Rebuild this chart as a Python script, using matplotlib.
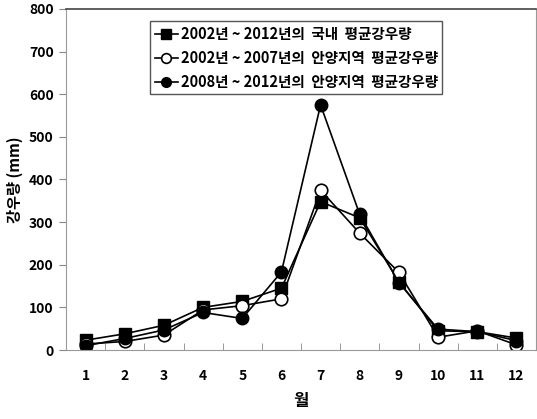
import numpy as np
import matplotlib.pyplot as plt
from matplotlib.ticker import MultipleLocator

plt.rcParams['font.family'] = ['Noto Sans CJK KR', 'DejaVu Sans']

# Monthly average rainfall (mm)
months = np.arange(1, 13)
national_02_12 = [23, 38, 58, 100, 114, 145, 348, 310, 160, 45, 43, 28]
anyang_02_07 = [14, 20, 35, 94, 104, 120, 375, 274, 182, 30, 45, 12]
anyang_08_12 = [10, 27, 47, 88, 74, 183, 575, 318, 158, 49, 43, 22]

labels = ['2002년 ~ 2012년의  국내  평균강우량',
          '2002년 ~ 2007년의  안양지역  평균강우량',
          '2008년 ~ 2012년의  안양지역  평균강우량']

fig = plt.figure(figsize=(5.37, 4.19), dpi=100)
ax = fig.add_axes([66 / 537, 69 / 419, 470 / 537, 341 / 419])

ax.plot(months, national_02_12, color='black', lw=1.2, marker='s', ms=8,
        label=labels[0])
ax.plot(months, anyang_02_07, color='black', lw=1.2, marker='o', ms=9,
        mfc='white', mew=1.2, label=labels[1])
ax.plot(months, anyang_08_12, color='black', lw=1.2, marker='o', ms=9,
        label=labels[2])

ax.set_xlim(0.5, 12.5)
ax.set_ylim(0, 800)
ax.yaxis.set_major_locator(MultipleLocator(100))
ax.set_xticks(months)
ax.set_xticks(np.arange(0.5, 13, 1), minor=True)
ax.tick_params(axis='x', which='major', length=0, pad=14)
ax.tick_params(axis='x', which='minor', direction='in', length=5, color='#888888')
ax.tick_params(axis='y', direction='out', length=5, color='#888888', pad=4)
for lbl in ax.get_xticklabels() + ax.get_yticklabels():
    lbl.set_fontweight('bold')
    lbl.set_fontsize(10)

for side in ['left', 'bottom', 'right']:
    ax.spines[side].set_color('#999999')
ax.spines['top'].set_color('#444444')
ax.spines['top'].set_linewidth(1.2)

ax.set_xlabel('월', fontsize=12, fontweight='bold', labelpad=6)
ax.set_ylabel('강우량 (mm)', fontsize=11, fontweight='bold', labelpad=4)

leg = ax.legend(loc='upper left', bbox_to_anchor=(0.164, 0.985), fancybox=False,
                edgecolor='#555555', framealpha=1, handlelength=1.6,
                handletextpad=0.2, borderpad=0.3, labelspacing=0.55,
                prop={'weight': 'bold', 'size': 10.5})
leg.get_frame().set_linewidth(1.0)
for h in leg.legend_handles:
    h.set_markersize(7)

fig.savefig('out.png', dpi=100)
